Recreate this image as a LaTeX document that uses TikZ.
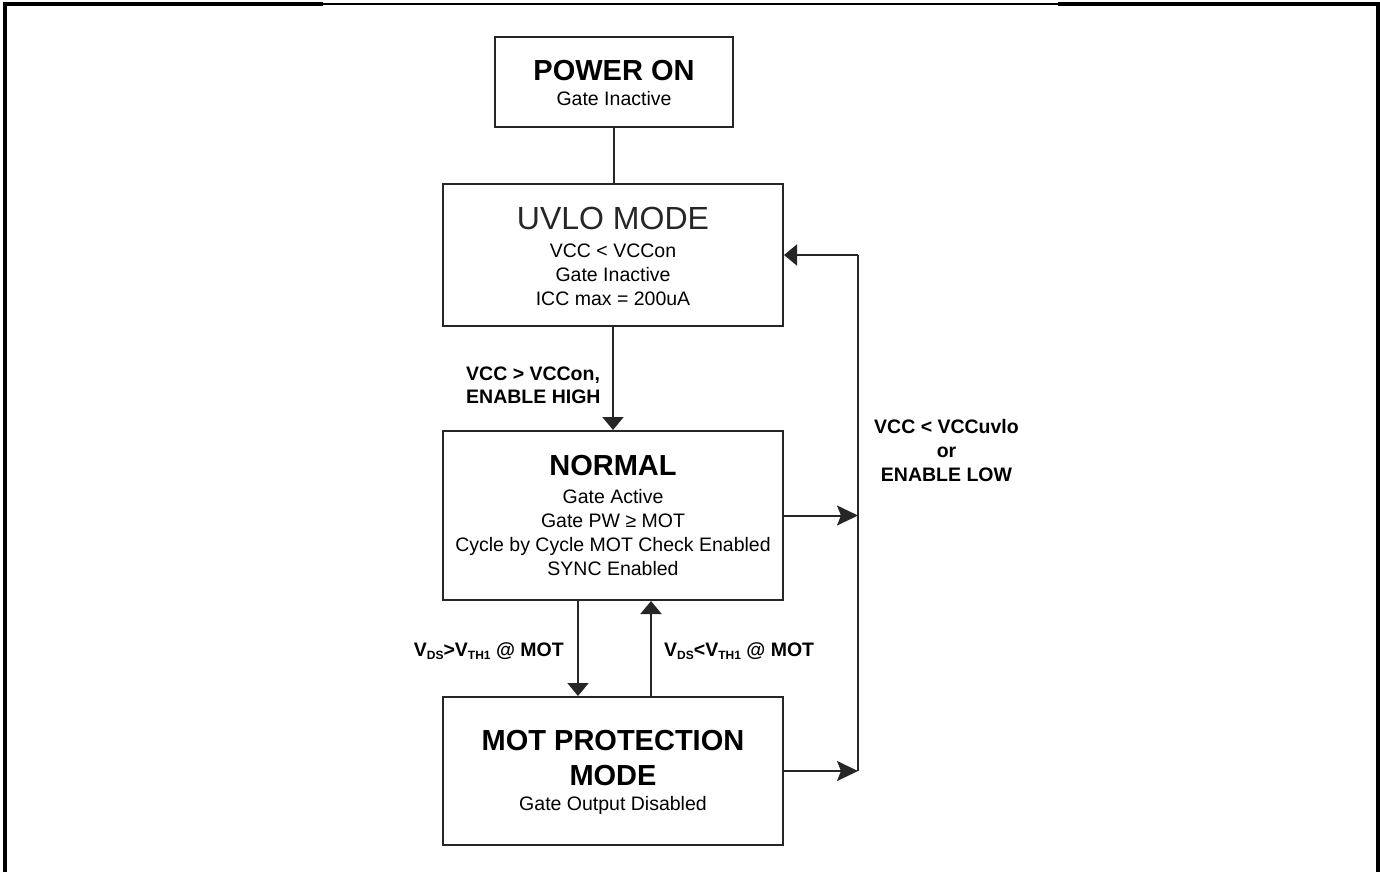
\documentclass[tikz,border=0pt]{standalone}
\usepackage{fontspec}
\setmainfont{Liberation Sans}
\usetikzlibrary{arrows.meta,calc}
\newcommand{\lsub}[1]{\raisebox{-0.35ex}{\fontsize{12}{12}\selectfont #1}}
\tikzset{
  box/.style={draw=black!85, line width=2pt, inner sep=0pt, fill=white},
  ttl/.style={font=\fontsize{29}{29}\selectfont\bfseries, anchor=base, inner sep=0pt},
  ttlthin/.style={font=\fontsize{32}{32}\selectfont, anchor=base, inner sep=0pt, text=black!85},
  body/.style={font=\fontsize{19.5}{19.5}\selectfont, anchor=base, inner sep=0pt},
  lbl/.style={font=\fontsize{19.5}{19.5}\selectfont\bfseries, anchor=base, inner sep=0pt},
  conn/.style={line width=2pt, draw=black!85},
  arrA/.style={conn, -{Triangle[length=13pt,width=21pt]}},
  arrB/.style={conn, -{Stealth[length=21pt,width=20pt,inset=4pt]}},
  framethick/.style={line width=3.4pt, draw=black},
  framethin/.style={line width=1.3pt, draw=black}
}
\begin{document}
\begin{tikzpicture}[x=1pt,y=-1pt]
  \useasboundingbox (0,0) rectangle (1380,871);
  % outer frame
  \coordinate (fTL) at (5,4);
  \coordinate (fA) at (323,4);
  \coordinate (fB) at (1058,4);
  \coordinate (fTR) at (1378,4);
  \coordinate (fBL) at (5,880);
  \coordinate (fBR) at (1378,880);
  \draw[framethick] (fBL) -- (fTL) -- (fA);
  \draw[framethin] (fA) -- (fB);
  \draw[framethick] (fB) -- (fTR) -- (fBR);

  % boxes
  \node[box, minimum width=238pt, minimum height=90pt] (pw) at (613.5,82) {};
  \node[box, minimum width=340pt, minimum height=142pt] (uvlo) at (613,255) {};
  \node[box, minimum width=340pt, minimum height=169pt] (normal) at (613,515.5) {};
  \node[box, minimum width=340pt, minimum height=148pt] (mot) at (613,771) {};

  % box texts
  \node[ttl] (pwT) at (614,80) {POWER ON};
  \node[body] (pwA) at (614,105) {Gate Inactive};

  \node[ttlthin] (uvT) at (613,229) {UVLO MODE};
  \node[body] (uvA) at (613,257) {VCC < VCCon};
  \node[body] (uvB) at (613,281) {Gate Inactive};
  \node[body] (uvC) at (613,305) {ICC max = 200uA};

  \node[ttl] (nT) at (613,475) {NORMAL};
  \node[body] (nA) at (613,503) {Gate Active};
  \node[body] (nB) at (613,527) {Gate PW ≥ MOT};
  \node[body] (nC) at (613,551) {Cycle by Cycle MOT Check Enabled};
  \node[body] (nD) at (613,575) {SYNC Enabled};

  \node[ttl] (mT1) at (613,750) {MOT PROTECTION};
  \node[ttl] (mT2) at (613,785) {MODE};
  \node[body] (mA) at (613,810) {Gate Output Disabled};

  % connectors
  \draw[conn] (pw.south) -- (pw.south |- uvlo.north);
  \draw[arrA] (uvlo.south) -- (normal.north);

  \coordinate (xd) at (578,0);
  \coordinate (xu) at (651,0);
  \draw[arrA] (normal.south -| xd) -- (mot.north -| xd);
  \draw[arrA] (mot.north -| xu) -- (normal.south -| xu);

  \coordinate (rTop) at (858,255);
  \coordinate (rN) at (858,515.5);
  \coordinate (rM) at (858,771);
  \draw[arrB] (normal.east) -- (rN);
  \draw[arrB] (mot.east) -- (rM);
  \draw[conn] (rM) -- (rTop);
  \draw[arrA] (rTop) -- (uvlo.east);

  % labels
  \node[lbl, anchor=base west] (l1a) at (466,380) {VCC > VCCon,};
  \node[lbl, anchor=base west] (l1b) at (466,403) {ENABLE HIGH};

  \node[lbl] (l2a) at (946.5,433) {VCC < VCCuvlo};
  \node[lbl] (l2b) at (946.5,457) {or};
  \node[lbl] (l2c) at (946.5,481) {ENABLE LOW};

  \node[lbl, anchor=base east] (l3) at (564,656) {V\lsub{DS}>V\lsub{TH1} @ MOT};
  \node[lbl, anchor=base west] (l4) at (664,656) {V\lsub{DS}<V\lsub{TH1} @ MOT};
\end{tikzpicture}
\end{document}
